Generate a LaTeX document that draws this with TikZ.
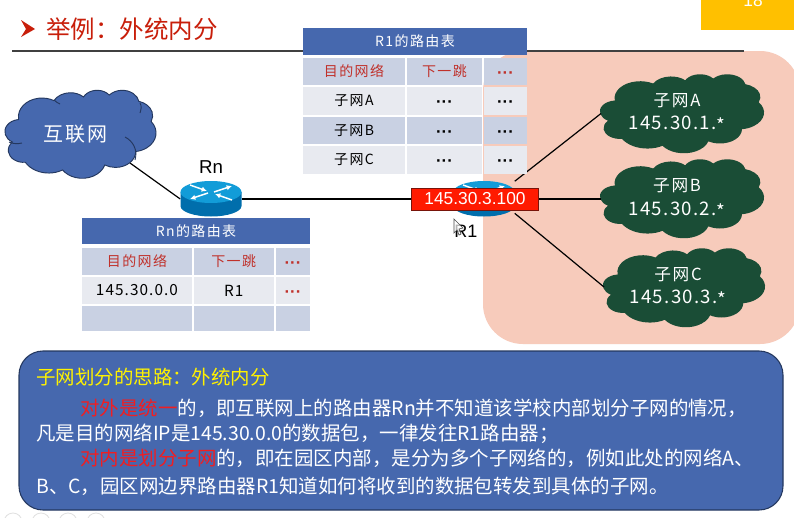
\documentclass[tikz,border=0pt]{standalone}
\usepackage{fontspec}
\setmainfont{Liberation Sans}
\newfontfamily\cjk{Noto Sans CJK SC}
\newfontfamily\cjksp[LetterSpace=10]{Noto Sans CJK SC}
\newfontfamily\cjkip[LetterSpace=7]{Noto Sans CJK SC}
\usetikzlibrary{arrows.meta}
\definecolor{tblue}{HTML}{4668AE}
\definecolor{hrow}{HTML}{C9D1E3}
\definecolor{lrow}{HTML}{E8EAF0}
\definecolor{tred}{HTML}{C0312B}
\definecolor{titlered}{HTML}{C81E0A}
\definecolor{pinkbg}{HTML}{F7CBBB}
\definecolor{darkgreen}{HTML}{1A4D36}
\definecolor{outl}{HTML}{24385F}
\definecolor{hotred}{HTML}{F01E22}
\tikzset{
  link/.style={draw=black,line width=0.9pt},
  celltext/.style={inner sep=0pt,font=\cjksp\fontsize{10.5pt}{12pt}\selectfont,text=#1},
  celltext/.default=black,
  cellip/.style={inner sep=0pt,font=\cjkip\fontsize{11.5pt}{12pt}\selectfont,text=black},
  celldots/.style={inner sep=0pt,yshift=-2.6pt,font=\bfseries\fontsize{12.5pt}{12pt}\selectfont,text=#1},
  celldots/.default=black,
  paraline/.style={anchor=west,inner sep=0pt,text=white,font=\cjk\fontsize{14.6pt}{16pt}\selectfont},
  cloudlabel/.style={inner sep=0pt,text=white,align=center},
  routerport/.style={inner sep=0pt,minimum width=45.75pt,minimum height=27pt},
  arrowwhite/.style={white,line width=1.1pt,-{Latex[length=4pt,width=4pt]}},
  playerbutton/.style={draw=black!12,line width=0.6pt}
}
\newcommand\ca[4]{\pgfextra{%
  \pgfmathsetmacro\cloudta{atan2(#1*sin(#3),#2*cos(#3))}%
  \pgfmathsetmacro\cloudtb{atan2(#1*sin(#3+#4),#2*cos(#3+#4))}%
  \pgfmathsetmacro\cloudtd{\cloudtb-\cloudta}%
  \pgfmathsetmacro\cloudtd{\cloudtd<0?\cloudtd+360:\cloudtd}}
  arc[start angle=\cloudta,delta angle=\cloudtd,x radius=#1,y radius=#2]}
\newcommand\cloudart[5]{%
  \pgfmathsetlengthmacro\cloudcx{(#3-#1)*0.75/432}%
  \pgfmathsetlengthmacro\cloudcy{(#4-#2)*0.75/432}%
  \begin{scope}[shift={(#1,#2)},x=\cloudcx,y=-\cloudcy]
  \path[#5] (39,143.7) \ca{67.53}{91.90}{-190.4875}{123.7805}
    \ca{53.33}{72.67}{-144.1024}{89.9452}
    \ca{43.65}{59.45}{-145.8079}{99.7230}
    \ca{48.57}{65.95}{-130.9861}{117.2417}
    \ca{53.33}{72.73}{-78.7089}{109.0269}
    \ca{67.75}{92.20}{-46.2673}{130.2690}
    \ca{57.85}{78.67}{0.6250}{114.0333}
    \ca{67.52}{92.15}{22.4516}{115.1726}
    \ca{77.20}{105.43}{66.2426}{75.7110}
    \ca{43.60}{59.18}{-274.9421}{146.7356}
    \ca{43.45}{59.45}{-246.8285}{152.5189} -- cycle;
  \end{scope}}
\newcommand\routerart[2]{%
  \begin{scope}[shift={(#1,#2)}]
  \fill[fill={rgb,255:red,0;green,110;blue,172}] (-30.5,-7) -- (-30.5,7) arc[start angle=180,delta angle=-180,x radius=30.5,y radius=10.5] -- (30.5,-7) -- cycle;
  \fill[fill={rgb,255:red,18;green,156;blue,216}] (0,-7) ellipse[x radius=30.5,y radius=11];
  \draw[arrowwhite] (3,-7) -- (21,-13);
  \draw[arrowwhite] (-3,-6) -- (-21,0);
  \draw[arrowwhite] (-21,-14) -- (-4,-8);
  \draw[arrowwhite] (21,1) -- (4,-5);
  \end{scope}}
\newcommand\cell[8]{\path[fill=#6] (#2,#3) rectangle node[name=#1,#7]{#8} (#4,#5);}
\begin{document}
\begin{tikzpicture}[x=0.75pt,y=-0.75pt]
\useasboundingbox (0,0) rectangle (794,518);
\fill[white] (0,0) rectangle (794,518);
% backdrop
\fill[pinkbg,rounded corners=30pt] (483,51) rectangle (800,344);
\fill[fill={rgb,255:red,255;green,192;blue,0}] (701,0) rectangle (794,30);
\node[name=pageno,inner sep=0pt,text=white,font=\fontsize{13pt}{14pt}\selectfont] at (753,1) {18};
% title
\fill[titlered] (21,20) -- (35,29) -- (21,37) -- (26,29) -- cycle;
\node[name=slidetitle,anchor=west,inner sep=0pt,text=titlered,font=\cjk\fontsize{18.4pt}{20pt}\selectfont] at (46,29) {举例：外统内分};
\draw[black!75,line width=0.8pt] (12,51) -- (303,51);
\draw[black!75,line width=0.8pt] (527,51) -- (744,51);
% clouds
\cloudart{5}{90}{156}{178}{fill=tblue,draw=outl,line width=0.7pt}
\draw[outl,line width=0.7pt] (125,137) .. controls (133,141) and (138,150) .. (135,160);
\draw[outl,line width=0.7pt] (9,142) .. controls (13,144) and (18,144) .. (22,143);
\draw[outl,line width=0.7pt] (54,100) .. controls (56,102) and (58,103) .. (60,104);
\draw[outl,line width=0.7pt] (140,103) .. controls (142,106) and (141,110) .. (140,113);
\node[name=inet,cloudlabel,font=\cjksp\fontsize{15pt}{16pt}\selectfont] at (75,134) {互联网};
\coordinate (inetport) at (130,163);
\cloudart{600}{74}{764}{153}{fill=darkgreen}
\cloudart{600}{159}{764}{238}{fill=darkgreen}
\cloudart{603}{248}{765}{327}{fill=darkgreen}
\node[name=nameA,cloudlabel,font=\cjksp\fontsize{12.5pt}{14pt}\selectfont] at (677,101) {子网A};
\node[name=ipA,cloudlabel,font=\cjkip\fontsize{14pt}{16pt}\selectfont] at (677,124.5) {145.30.1.\raisebox{-2.5pt}{*}};
\node[name=nameB,cloudlabel,font=\cjksp\fontsize{12.5pt}{14pt}\selectfont] at (677,186) {子网B};
\node[name=ipB,cloudlabel,font=\cjkip\fontsize{14pt}{16pt}\selectfont] at (677,210) {145.30.2.\raisebox{-2.5pt}{*}};
\node[name=nameC,cloudlabel,font=\cjksp\fontsize{12.5pt}{14pt}\selectfont] at (678,275) {子网C};
\node[name=ipC,cloudlabel,font=\cjkip\fontsize{14pt}{16pt}\selectfont] at (678,298) {145.30.3.\raisebox{-2.5pt}{*}};
\coordinate (cloudA) at (601,113.5);
\coordinate (cloudB) at (601,199);
\coordinate (cloudC) at (604,287);
% routers and connectors
\node[name=rn,routerport] at (211,199) {};
\node[name=r1,routerport] at (484,199) {};
\node[name=r1tag,inner sep=0pt,minimum width=95.5pt,minimum height=16.5pt] at (475,199) {};
\draw[link] (inetport) -- (rn.west);
\draw[link] (rn.east) -- (r1tag.west);
\draw[link] (r1.30) -- (cloudA);
\draw[link] (r1tag.east) -- (cloudB);
\draw[link] (r1.-25) -- (cloudC);
\routerart{211}{199}
\routerart{484}{199}
\node[name=r1label,draw={rgb,255:red,120;green,20;blue,10},line width=0.6pt,fill={rgb,255:red,255;green,26;blue,0},text=white,inner sep=0pt,minimum width=95.5pt,minimum height=16.5pt,font=\fontsize{13pt}{14pt}\selectfont] at (r1tag) {145.30.3.100};
\node[name=rnname,inner sep=0pt,font=\fontsize{14pt}{16pt}\selectfont] at (211,167) {Rn};
\node[name=r1name,inner sep=0pt,font=\fontsize{13.5pt}{16pt}\selectfont] at (466,231) {R1};
\draw[black!70,fill=white,fill opacity=0.7,line width=0.5pt] (454,219) -- (454,233) -- (457,230) -- (459,235) -- (461,234) -- (459,229) -- (463,228) -- cycle;
% R1 table
\cell{ra0}{303}{28}{527}{55}{tblue}{inner sep=0pt,text=white,font=\cjksp\fontsize{10.5pt}{12pt}\selectfont}{R1的路由表}
\cell{ra1}{303}{58}{405}{85}{hrow}{celltext=tred}{目的网络}
\cell{ra2}{407}{58}{482}{85}{hrow}{celltext=tred}{下一跳}
\cell{ra3}{484}{58}{527}{85}{hrow}{celldots=tred}{···}
\cell{rb1}{303}{87}{405}{115}{lrow}{celltext}{子网A}
\cell{rb2}{407}{87}{482}{115}{lrow}{celldots}{···}
\cell{rb3}{484}{87}{527}{115}{lrow}{celldots}{···}
\cell{rc1}{303}{117}{405}{144}{hrow}{celltext}{子网B}
\cell{rc2}{407}{117}{482}{144}{hrow}{celldots}{···}
\cell{rc3}{484}{117}{527}{144}{hrow}{celldots}{···}
\cell{rd1}{303}{146}{405}{174}{lrow}{celltext}{子网C}
\cell{rd2}{407}{146}{482}{174}{lrow}{celldots}{···}
\cell{rd3}{484}{146}{527}{174}{lrow}{celldots}{···}
% Rn table
\cell{na0}{82}{218}{310}{244}{tblue}{inner sep=0pt,text=white,font=\cjksp\fontsize{10.5pt}{12pt}\selectfont}{Rn的路由表}
\cell{na1}{82}{248}{192}{275}{hrow}{celltext=tred}{目的网络}
\cell{na2}{193.5}{248}{274}{275}{hrow}{celltext=tred}{下一跳}
\cell{na3}{276}{248}{310}{275}{hrow}{celldots=tred}{···}
\cell{nb1}{82}{277}{192}{304}{lrow}{cellip}{145.30.0.0}
\cell{nb2}{193.5}{277}{274}{304}{lrow}{cellip}{R1}
\cell{nb3}{276}{277}{310}{304}{lrow}{celldots=tred}{···}
\cell{nc1}{82}{306}{192}{331}{hrow}{celltext}{}
\cell{nc2}{193.5}{306}{274}{331}{hrow}{celltext}{}
\cell{nc3}{276}{306}{310}{331}{hrow}{celltext}{}
% panel
\draw[fill=tblue,draw=outl,line width=0.8pt,rounded corners=18pt] (19,351) rectangle (783,510);
\node[name=phead,paraline,text=yellow] at (36,377) {子网划分的思路：外统内分};
\node[name=pl1,paraline] at (80,408) {\textcolor{hotred}{对外是统一}的，即互联网上的路由器Rn并不知道该学校内部划分子网的情况，};
\node[name=pl2,paraline] at (36,434) {凡是目的网络IP是145.30.0.0的数据包，一律发往R1路由器；};
\node[name=pl3,paraline] at (80,458) {\textcolor{hotred}{对内是划分子网}的，即在园区内部，是分为多个子网络的，例如此处的网络A、};
\node[name=pl4,paraline] at (36,486) {B、C，园区网边界路由器R1知道如何将收到的数据包转发到具体的子网。};
% faint player buttons at the lower edge
\draw[playerbutton] (13,522) circle (9);
\draw[playerbutton] (41,522) circle (9);
\draw[playerbutton] (68,522) circle (9);
\draw[playerbutton] (96,522) circle (9);
\end{tikzpicture}
\end{document}
